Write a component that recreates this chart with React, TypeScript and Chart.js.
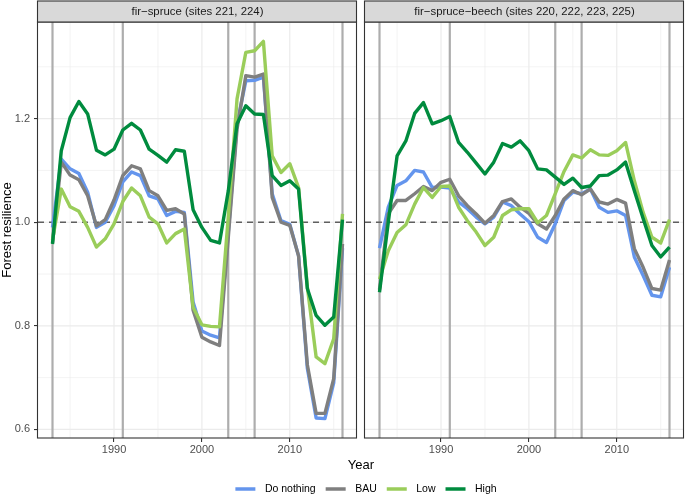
import React, { useEffect, useRef } from 'react';
import { Chart, registerables } from 'chart.js';

Chart.register(...registerables);

const years = [
  1983, 1984, 1985, 1986, 1987, 1988, 1989, 1990, 1991, 1992, 1993, 1994,
  1995, 1996, 1997, 1998, 1999, 2000, 2001, 2002, 2003, 2004, 2005, 2006,
  2007, 2008, 2009, 2010, 2011, 2012, 2013, 2014, 2015, 2016,
];

const panelTitles = [
  'fir−spruce (sites 221, 224)',
  'fir−spruce−beech (sites 220, 222, 223, 225)',
];
const seriesLabels = ['Do nothing', 'BAU', 'Low', 'High'];
const seriesColors = ['#6495ED', '#7F7F7F', '#9ACD5A', '#008B3E'];
const disturbanceYears = [1983, 1991, 2003, 2006, 2016];
const xTickYears = [1990, 2000, 2010];
const xMinorYears = [1985, 1995, 2005, 2015];
const yTickValues = [0.6, 0.8, 1.0, 1.2];
const yMinorValues = [0.7, 0.9, 1.1, 1.3];
const referenceLevel = 1.0;
const xAxisTitle = 'Year';
const yAxisTitle = 'Forest resilience';

// fir-spruce panel
const fsDoNothing = [
  0.99, 1.122, 1.103, 1.094, 1.058, 0.99, 1.0, 1.032, 1.078, 1.097, 1.09, 1.051,
  1.045, 1.013, 1.021, 1.019, 0.846, 0.79, 0.782, 0.777, 0.98, 1.19, 1.273, 1.274,
  1.28, 1.055, 1.003, 0.996, 0.935, 0.718, 0.622, 0.621, 0.69, 0.95,
];
const fsBAU = [
  0.96, 1.116, 1.091, 1.082, 1.051, 0.993, 1.005, 1.043, 1.09, 1.109, 1.103, 1.061,
  1.051, 1.023, 1.026, 1.016, 0.83, 0.778, 0.769, 0.762, 0.97, 1.18, 1.283, 1.28,
  1.286, 1.048, 1.0, 0.994, 0.935, 0.725, 0.631, 0.631, 0.698, 0.958,
];
const fsLow = [
  0.965, 1.064, 1.03, 1.021, 0.99, 0.952, 0.968, 0.997, 1.04, 1.066, 1.051, 1.01,
  0.997, 0.96, 0.978, 0.987, 0.836, 0.802, 0.799, 0.798, 1.01, 1.238, 1.328, 1.331,
  1.349, 1.128, 1.096, 1.113, 1.067, 0.875, 0.74, 0.727, 0.775, 1.016,
];
const fsHigh = [
  0.958, 1.138, 1.202, 1.233, 1.209, 1.139, 1.13, 1.141, 1.178, 1.191, 1.178, 1.141,
  1.129, 1.116, 1.14, 1.137, 1.024, 0.99, 0.965, 0.96, 1.06, 1.19, 1.225, 1.209,
  1.208, 1.09, 1.071, 1.08, 1.064, 0.872, 0.82, 0.801, 0.817, 1.005,
];

// fir-spruce-beech panel
const fsbDoNothing = [
  0.95, 1.029, 1.071, 1.08, 1.1, 1.097, 1.067, 1.068, 1.066, 1.039, 1.026, 1.01,
  0.997, 1.01, 1.039, 1.032, 1.016, 1.001, 0.971, 0.961, 0.997, 1.042, 1.058, 1.055,
  1.064, 1.029, 1.019, 1.022, 1.013, 0.933, 0.897, 0.859, 0.856, 0.913,
];
const fsbBAU = [
  0.87, 1.016, 1.042, 1.042, 1.055, 1.069, 1.061, 1.077, 1.083, 1.051, 1.032, 1.016,
  0.998, 1.013, 1.04, 1.045, 1.029, 1.017, 0.997, 0.987, 1.013, 1.045, 1.061, 1.053,
  1.064, 1.039, 1.035, 1.044, 1.037, 0.949, 0.913, 0.872, 0.869, 0.927,
];
const fsbLow = [
  0.89, 0.945, 0.98, 0.995, 1.035, 1.067, 1.048, 1.069, 1.07, 1.029, 1.003, 0.981,
  0.955, 0.971, 1.013, 1.024, 1.026, 1.026, 0.999, 1.013, 1.055, 1.098, 1.13, 1.124,
  1.14, 1.13, 1.129, 1.138, 1.154, 1.08, 1.019, 0.971, 0.96, 1.005,
];
const fsbHigh = [
  0.865, 1.0, 1.128, 1.157, 1.21, 1.231, 1.19, 1.196, 1.204, 1.154, 1.135, 1.114,
  1.093, 1.116, 1.152, 1.145, 1.157, 1.138, 1.103, 1.101, 1.087, 1.073, 1.085, 1.067,
  1.07, 1.09, 1.091, 1.101, 1.116, 1.061, 1.007, 0.955, 0.933, 0.952,
];

const panelSeries = [
  [fsDoNothing, fsBAU, fsLow, fsHigh],
  [fsbDoNothing, fsbBAU, fsbLow, fsbHigh],
];

// shared axis ranges (ggplot default 5% expansion)
const X_LO = 1981.35;
const X_HI = 2017.65;
const SPAN = X_HI - X_LO;
const GAP = (SPAN * 8) / 319;
const OFF = SPAN + GAP;
const X_TOTAL = SPAN * 2 + GAP;
const Y_MIN = 0.5835;
const Y_MAX = 1.3865;

const FONT = "'Liberation Sans', Arial, Helvetica, sans-serif";

const toX = (panel: number, year: number) => year - X_LO + panel * OFF;

const facetPlugin = {
  id: 'facets',
  beforeDatasetsDraw(chart: any) {
    const { ctx, chartArea, scales } = chart;
    const { top, bottom } = chartArea;
    const x = scales.x;
    const y = scales.y;
    const line = (x1: number, y1: number, x2: number, y2: number) => {
      ctx.beginPath();
      ctx.moveTo(x1, y1);
      ctx.lineTo(x2, y2);
      ctx.stroke();
    };
    for (let p = 0; p < 2; p++) {
      const l = x.getPixelForValue(p * OFF);
      const r = x.getPixelForValue(p * OFF + SPAN);
      ctx.save();
      ctx.fillStyle = '#FFFFFF';
      ctx.fillRect(l, top, r - l, bottom - top);
      ctx.beginPath();
      ctx.rect(l, top, r - l, bottom - top);
      ctx.clip();
      ctx.strokeStyle = '#EBEBEB';
      ctx.lineWidth = 0.6;
      yMinorValues.forEach((v) => {
        const py = y.getPixelForValue(v);
        line(l, py, r, py);
      });
      xMinorYears.forEach((yr) => {
        const px = x.getPixelForValue(toX(p, yr));
        line(px, top, px, bottom);
      });
      ctx.lineWidth = 1.2;
      yTickValues.forEach((v) => {
        const py = y.getPixelForValue(v);
        line(l, py, r, py);
      });
      xTickYears.forEach((yr) => {
        const px = x.getPixelForValue(toX(p, yr));
        line(px, top, px, bottom);
      });
      ctx.strokeStyle = '#ADADAD';
      ctx.lineWidth = 2.2;
      disturbanceYears.forEach((yr) => {
        const px = x.getPixelForValue(toX(p, yr));
        line(px, top, px, bottom);
      });
      ctx.strokeStyle = '#5F5F5F';
      ctx.lineWidth = 1.6;
      ctx.setLineDash([6, 5]);
      const ry = y.getPixelForValue(referenceLevel);
      line(l, ry, r, ry);
      ctx.restore();
    }
  },
  afterDatasetsDraw(chart: any) {
    const { ctx, chartArea, scales } = chart;
    const { top, bottom } = chartArea;
    const x = scales.x;
    for (let p = 0; p < 2; p++) {
      const l = Math.round(x.getPixelForValue(p * OFF));
      const r = Math.round(x.getPixelForValue(p * OFF + SPAN));
      ctx.save();
      ctx.strokeStyle = '#333333';
      ctx.lineWidth = 1.1;
      ctx.strokeRect(l - 0.5, top, r - l, bottom - top);
      // strip
      const sTop = 1;
      ctx.fillStyle = '#D9D9D9';
      ctx.fillRect(l - 0.5, sTop, r - l, top - sTop);
      ctx.strokeRect(l - 0.5, sTop, r - l, top - sTop);
      ctx.fillStyle = '#1A1A1A';
      ctx.font = `11.4px ${FONT}`;
      ctx.textAlign = 'center';
      ctx.textBaseline = 'middle';
      ctx.fillText(panelTitles[p], (l + r) / 2, (sTop + top) / 2 + 0.5);
      ctx.restore();
    }
  },
  afterDraw(chart: any) {
    const { ctx } = chart;
    ctx.save();
    ctx.font = `10.5px ${FONT}`;
    const keyW = 20;
    const keyGap = 9.5;
    const itemGap = 10;
    const widths = seriesLabels.map((s) => ctx.measureText(s).width);
    const total =
      widths.reduce((a, b) => a + b, 0) + seriesLabels.length * (keyW + keyGap) + (seriesLabels.length - 1) * itemGap;
    let cx = 366 - total / 2;
    const cy = 489;
    seriesLabels.forEach((s, i) => {
      ctx.strokeStyle = seriesColors[i];
      ctx.lineWidth = 3.5;
      ctx.beginPath();
      ctx.moveTo(cx, cy);
      ctx.lineTo(cx + keyW, cy);
      ctx.stroke();
      cx += keyW + keyGap;
      ctx.fillStyle = '#000000';
      ctx.textAlign = 'left';
      ctx.textBaseline = 'middle';
      ctx.fillText(s, cx, cy);
      cx += widths[i] + itemGap;
    });
    ctx.restore();
  },
};

export default function App() {
  const canvasRef = useRef<HTMLCanvasElement | null>(null);

  useEffect(() => {
    const canvas = canvasRef.current;
    if (!canvas) return;
    Chart.defaults.font.family = FONT;

    const datasets = seriesLabels.map((label, s) => ({
      label,
      data: [
        ...years.map((yr, i) => ({ x: toX(0, yr), y: panelSeries[0][s][i] })),
        { x: SPAN + GAP / 2, y: null },
        ...years.map((yr, i) => ({ x: toX(1, yr), y: panelSeries[1][s][i] })),
      ],
      borderColor: seriesColors[s],
      backgroundColor: seriesColors[s],
      borderWidth: 3.4,
      pointRadius: 0,
      pointHoverRadius: 0,
      tension: 0,
      spanGaps: false,
      fill: false,
      borderJoinStyle: 'round' as const,
      borderCapStyle: 'butt' as const,
      order: seriesLabels.length - s,
    }));

    const chart = new Chart(canvas, {
      type: 'line',
      data: { datasets },
      plugins: [facetPlugin],
      options: {
        animation: false,
        responsive: false,
        devicePixelRatio: 1,
        events: [],
        layout: { padding: { left: 0, top: 22, right: 1, bottom: 23 } },
        plugins: {
          legend: { display: false },
          tooltip: { enabled: false },
        },
        scales: {
          x: {
            type: 'linear',
            min: 0,
            max: X_TOTAL,
            afterFit: (scale: any) => {
              scale.height = 35;
            },
            afterBuildTicks: (scale: any) => {
              scale.ticks = [
                ...xTickYears.map((yr) => ({ value: toX(0, yr) })),
                ...xTickYears.map((yr) => ({ value: toX(1, yr) })),
              ];
            },
            ticks: {
              autoSkip: false,
              maxRotation: 0,
              padding: 1,
              color: '#4D4D4D',
              font: { size: 11, family: FONT },
              callback: (value: any) => {
                const v = Number(value);
                return String(Math.round(v > SPAN ? v - OFF + X_LO : v + X_LO));
              },
            },
            grid: {
              display: true,
              drawOnChartArea: false,
              drawTicks: true,
              tickLength: 4,
              color: '#333333',
              lineWidth: 1.1,
            },
            border: { display: false },
            title: {
              display: true,
              text: xAxisTitle,
              color: '#000000',
              padding: 0,
              font: { size: 13, family: FONT },
            },
          },
          y: {
            type: 'linear',
            min: Y_MIN,
            max: Y_MAX,
            afterFit: (scale: any) => {
              scale.width = 38;
            },
            afterBuildTicks: (scale: any) => {
              scale.ticks = yTickValues.map((v) => ({ value: v }));
            },
            ticks: {
              padding: 4,
              color: '#4D4D4D',
              font: { size: 11, family: FONT },
              callback: (value: any) => Number(value).toFixed(1),
            },
            grid: {
              display: true,
              drawOnChartArea: false,
              drawTicks: true,
              tickLength: 4,
              color: '#333333',
              lineWidth: 1.1,
            },
            border: { display: false },
            title: {
              display: true,
              text: yAxisTitle,
              color: '#000000',
              padding: 0,
              font: { size: 13, family: FONT },
            },
          },
        },
      },
    });

    return () => {
      chart.destroy();
    };
  }, []);

  return (
    <div style={{ position: 'absolute', left: 0, top: 0, width: 685, height: 496, background: '#FFFFFF' }}>
      <canvas ref={canvasRef} width={685} height={496} style={{ display: 'block', width: 685, height: 496 }} />
    </div>
  );
}
